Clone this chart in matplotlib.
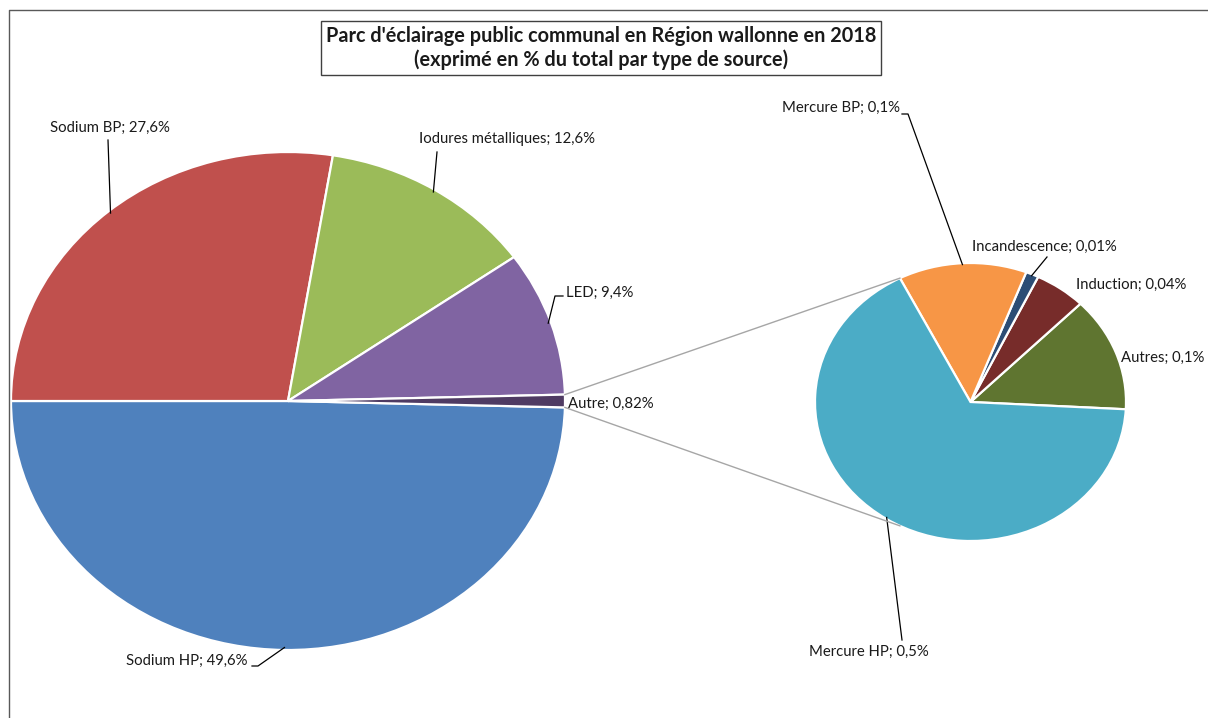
import numpy as np
import matplotlib.pyplot as plt
from matplotlib.lines import Line2D

plt.rcParams['font.family'] = ['Lato', 'DejaVu Sans']

W, H = 1208, 718

# main pie (share of the total)
main_labels = ['Sodium HP', 'Sodium BP', 'Iodures métalliques', 'LED', 'Autre']
main_values = [49.6, 27.6, 12.6, 9.4, 0.82]
main_colors = ['#4F81BD', '#C0504D', '#9BBB59', '#8064A2', '#4F3B63']

# breakdown of "Autre"
sub_labels = ['Autres', 'Induction', 'Incandescence', 'Mercure BP', 'Mercure HP']
sub_values = [0.1, 0.04, 0.01, 0.1, 0.5]
sub_colors = ['#5F7530', '#772C2A', '#2C4D75', '#F79646', '#4BACC6']

title = "Parc d'éclairage public communal en Région wallonne en 2018\n(exprimé en % du total par type de source)"


def fmt(label, v):
    return '%s; %s%%' % (label, str(v).replace('.', ','))


def fig_xy(x, y):
    # pixel position (origin top left) -> figure fraction
    return x / W, 1 - y / H


def box(x0, y0, x1, y1):
    return [x0 / W, 1 - y1 / H, (x1 - x0) / W, (y1 - y0) / H]


fig = plt.figure(figsize=(W / 100, H / 100), dpi=100)
to_fig = fig.transFigure.inverted()

ax1 = fig.add_axes(box(11, 152, 565, 650))
ax2 = fig.add_axes(box(815, 263, 1126, 541))

autre_angle = 360 * main_values[-1] / sum(main_values)
w1, _ = ax1.pie(main_values, colors=main_colors, startangle=-autre_angle / 2,
                counterclock=False, radius=1,
                wedgeprops=dict(edgecolor='white', linewidth=1.6))
w2, _ = ax2.pie(sub_values, colors=sub_colors, startangle=-3,
                counterclock=True, radius=1,
                wedgeprops=dict(edgecolor='white', linewidth=1.6))
for ax in (ax1, ax2):
    ax.set_aspect('auto')
    ax.set_xlim(-1, 1)
    ax.set_ylim(-1, 1)
    ax.axis('off')


def edge_point(ax, ang, r=1.0):
    a = np.deg2rad(ang)
    d = ax.transData.transform((r * np.cos(a), r * np.sin(a)))
    return to_fig.transform(d)


def leader(pts, ax, wedge):
    mid = (wedge.theta1 + wedge.theta2) / 2
    xs = [fig_xy(*p)[0] for p in pts]
    ys = [fig_xy(*p)[1] for p in pts]
    ex, ey = edge_point(ax, mid, 0.99)
    fig.add_artist(Line2D(xs + [ex], ys + [ey], transform=fig.transFigure,
                          color='black', lw=0.9))


label_kw = dict(fontsize=10.7, color='#1a1a1a', va='center')

main_pos = [(248, 661, 'right'), (50, 128, 'left'), (419, 139, 'left'),
            (566, 293, 'left'), (568, 404, 'left')]
main_lead = [[(252, 666), (258, 666)], [(108, 140)], [(437, 152)],
             [(563, 296), (555, 296)], None]
for lab, v, (x, y, ha), lead, w in zip(main_labels, main_values, main_pos, main_lead, w1):
    fig.text(*fig_xy(x, y), fmt(lab, v), ha=ha, **label_kw)
    if lead:
        leader(lead, ax1, w)

sub_pos = [(1204, 358, 'right'), (1076, 285, 'left'), (972, 247, 'left'),
           (900, 108, 'right'), (809, 652, 'left')]
sub_lead = [None, None, [(1047, 257)], [(902, 114), (908, 114)], [(902, 640)]]
for lab, v, (x, y, ha), lead, w in zip(sub_labels, sub_values, sub_pos, sub_lead, w2):
    fig.text(*fig_xy(x, y), fmt(lab, v), ha=ha, **label_kw)
    if lead:
        leader(lead, ax2, w)

# connector lines from the "Autre" slice to the second pie
aw = w1[-1]
for a_main, a_sub in ((aw.theta2, 117), (aw.theta1, 243)):
    p0 = edge_point(ax1, a_main)
    p1 = edge_point(ax2, a_sub)
    fig.add_artist(Line2D([p0[0], p1[0]], [p0[1], p1[1]], transform=fig.transFigure,
                          color='#A6A6A6', lw=1))

# chart frame
fx, fy = zip(fig_xy(9, 718), fig_xy(9, 10), fig_xy(1208, 10))
fig.add_artist(Line2D(fx, fy, transform=fig.transFigure, color='#595959', lw=1))

fig.text(*fig_xy(601, 48), title, ha='center', va='center', fontsize=14.3,
         fontweight='bold', color='#1a1a1a', linespacing=1.2,
         bbox=dict(boxstyle='square,pad=0.25', fc='white', ec='#404040', lw=1))

fig.savefig('out.png', dpi=100)
